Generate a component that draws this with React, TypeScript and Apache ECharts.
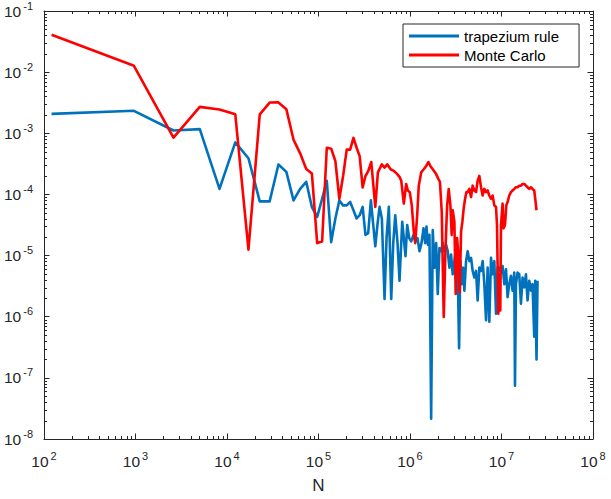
import React, { useEffect, useRef } from "react";
import * as echarts from "echarts";

// ---------- data ----------
const trapN = [
  121, 961, 2601, 5041, 8281, 12321, 17161, 22801, 29241, 36481,
  44521, 53361, 63001, 73441, 84681, 96721, 109561, 123201, 137641, 152881,
  168921, 185761, 203401, 221841, 241081, 261121, 281961, 303601, 326041, 349281,
  373700, 395100, 417500, 442300, 465000, 492600, 527100, 554200, 587200, 623700,
  655800, 689600, 730600, 768300, 822100, 855800, 893100, 932200, 980100, 1030600,
  1091900, 1148000, 1207000, 1269000, 1335000, 1404000, 1465000, 1514000, 1572000, 1632000,
  1703000, 1773000, 1850000, 1931000, 2010000, 2098000, 2189000, 2279000, 2378000, 2482000,
  2583000, 2696000, 2813000, 2928000, 3056000, 3189000, 3320000, 3439000, 3553000, 3671000,
  3802000, 3929000, 4100000, 4268000, 4455000, 4649000, 4839000, 5051000, 5271000, 5487000,
  5726000, 5976000, 6222000, 6493000, 6776000, 7053000, 7361000, 7683000, 7997000, 8346000,
  8710000, 9067000, 9462000, 9874000, 10280000, 10730000, 11200000, 11660000, 12160000, 12690000,
  13210000, 13790000, 14040000, 14390000, 14980000, 15630000, 16320000, 16990000, 17730000, 18500000,
  19260000, 20100000, 20980000, 21840000, 22790000, 23370000, 24140000, 24760000,
];
const trapErr = [
  2.08e-3, 2.33e-3, 1.11e-3, 1.17e-3, 1.23e-4, 7.1e-4, 3.9e-4, 7.7e-5, 7.7e-5, 3.08e-4,
  2.34e-4, 7.98e-5, 1.23e-4, 1.61e-4, 6.2e-5, 4.3e-5, 8.5e-5, 1.67e-4, 1.66e-5, 4.05e-5,
  7.98e-5, 6.62e-5, 6.62e-5, 7.52e-5, 5.51e-5, 4.05e-5, 4.57e-5, 6.25e-5, 2.18e-5, 2.32e-5,
  7.98e-5, 3.37e-5, 1.42e-5, 3.37e-5, 6.25e-5, 4.05e-5, 1.95e-6, 1.93e-5, 6.25e-5, 1.95e-6,
  1.6e-5, 4.57e-5, 1.6e-5, 3.87e-6, 3.58e-5, 1.93e-5, 9.77e-6, 3.16e-5, 1.93e-5, 1.71e-5,
  2.18e-5, 1.71e-5, 1.93e-5, 1.18e-5, 1.6e-5, 2.79e-5, 1.6e-5, 2.97e-5, 1.5e-5, 2.18e-5,
  2.15e-8, 2.62e-5, 6.34e-6, 1.6e-5, 2.36e-6, 1.33e-5, 1.18e-5, 1.6e-5, 1.18e-5, 1.5e-5,
  1.18e-5, 6.34e-6, 1.04e-5, 4.94e-6, 8.12e-6, 1.33e-5, 6.34e-6, 3.06e-7, 8.12e-6, 3.41e-6,
  6.34e-6, 2.67e-6, 8.12e-6, 1.18e-5, 8.12e-6, 9.18e-6, 5.61e-6, 4.38e-6, 5.61e-6, 1.85e-6,
  6.34e-6, 5.61e-6, 8.12e-6, 3.41e-6, 8.79e-7, 6.34e-6, 8.25e-7, 9.18e-6, 4.94e-6, 8.12e-6,
  1.12e-6, 6.34e-6, 6.34e-6, 5.26e-6, 6.75e-6, 3.41e-6, 5.96e-6, 2.09e-6, 3.41e-6, 4.66e-6,
  2.67e-6, 5.26e-6, 7.41e-8, 3.41e-6, 5.26e-6, 4.94e-6, 1.63e-6, 4.38e-6, 3.02e-6, 4.94e-6,
  1.85e-6, 3.87e-6, 2.67e-6, 3.41e-6, 4.73e-7, 3.87e-6, 2.0e-7, 3.87e-6,
];

const mcN = [
  121, 961, 2601, 5041, 8281, 12321, 17161, 22801, 29241, 36481,
  44521, 53361, 63001, 73441, 84681, 96721, 109561, 123201, 137641, 152881,
  168921, 185761, 203401, 221841, 241081, 261121, 281961, 303601, 326041, 349281,
  377500, 417500, 445700, 492600, 527100, 564100, 612900, 665700, 725100, 774100,
  801700, 855800, 909100, 946300, 995000, 1046200, 1100000, 1139600, 1198000, 1247000,
  1325000, 1414000, 1502000, 1592000, 1674000, 1773000, 1931000, 2046000, 2124000, 2223000,
  2337000, 2438000, 2545000, 2649000, 2764000, 2856000, 2928000, 3056000, 3158000, 3270000,
  3379000, 3491000, 3616000, 3736000, 3860000, 3999000, 4131000, 4268000, 4455000, 4649000,
  4839000, 5051000, 5271000, 5487000, 5726000, 5976000, 6222000, 6493000, 6776000, 7053000,
  7361000, 7683000, 7997000, 8346000, 8710000, 8931000, 9228000, 9462000, 9703000, 9874000,
  10280000, 10540000, 10920000, 11280000, 11660000, 12160000, 12690000, 13210000, 13790000, 14390000,
  14980000, 15630000, 16320000, 16990000, 17730000, 18500000, 19260000, 20100000, 20980000, 21840000,
  22790000, 23370000, 24140000,
];
const mcErr = [
  4.1e-2, 1.27e-2, 8.5e-4, 2.7e-3, 2.45e-3, 2.04e-3, 1.25e-5, 2.04e-3, 3.18e-3, 3.2e-3,
  2.48e-3, 7.85e-4, 4.7e-4, 2.6e-4, 2.2e-4, 1.6e-5, 1.7e-5, 5.8e-4, 5.6e-4, 3.5e-4,
  8.5e-5, 2.0e-4, 5.4e-4, 5.4e-4, 8.4e-4, 5.8e-4, 4.2e-4, 1.3e-4, 2.0e-4, 2.4e-4,
  3.39e-4, 6.25e-5, 2.29e-4, 3.11e-4, 2.75e-4, 3.11e-4, 2.58e-4, 2.43e-4, 2.15e-4, 1.9e-4,
  1.68e-4, 7.06e-5, 1.48e-4, 1.16e-4, 1.09e-4, 6.62e-5, 2.47e-5, 1.6e-5, 4.57e-5, 1.39e-4,
  2.29e-4, 2.58e-4, 2.92e-4, 3.39e-4, 2.89e-4, 2.58e-4, 2.15e-4, 1.78e-4, 1.6e-4, 5.19e-5,
  9.93e-7, 1.18e-5, 6.62e-5, 1.23e-4, 6.62e-5, 2.18e-5, 5.51e-5, 3.58e-5, 2.36e-6, 1.93e-5,
  1.04e-5, 2.51e-6, 2.47e-5, 3.58e-5, 5.86e-5, 8.49e-5, 1.09e-4, 1.09e-4, 1.23e-4, 9.05e-5,
  1.39e-4, 1.16e-4, 1.09e-4, 1.68e-4, 2.01e-4, 1.31e-4, 9.6e-5, 1.23e-4, 1.09e-4, 1.16e-4,
  9.6e-5, 8.49e-5, 9.6e-5, 6.62e-5, 6.25e-5, 3.16e-5, 1.12e-6, 4.94e-6, 1.27e-6, 3.16e-5,
  7.06e-5, 2.79e-5, 3.16e-5, 6.62e-5, 7.52e-5, 9.6e-5, 1.09e-4, 1.16e-4, 1.23e-4, 1.31e-4,
  1.31e-4, 1.39e-4, 1.39e-4, 1.48e-4, 1.48e-4, 1.39e-4, 1.31e-4, 1.23e-4, 1.31e-4, 1.23e-4,
  1.16e-4, 8.49e-5, 5.51e-5,
];

const seriesNames = ["trapezium rule", "Monte Carlo"];
const xTickExponents = [2, 3, 4, 5, 6, 7, 8];
const yTickExponents = [-8, -7, -6, -5, -4, -3, -2, -1];
const xLabel = "N";

// ---------- styling ----------
const FONT = "'Liberation Sans', Arial, Helvetica, sans-serif";
const AXIS_COLOR = "#262626";
const BLUE = "#0072BD";
const RED = "#FF0000";

const xMin = Math.pow(10, xTickExponents[0]);
const xMax = Math.pow(10, xTickExponents[xTickExponents.length - 1]);
const yMin = Math.pow(10, yTickExponents[0]);
const yMax = Math.pow(10, yTickExponents[yTickExponents.length - 1]);

// minor tick positions (2..9 x 10^k) for decoration
const minorX: number[] = [];
for (let e = xTickExponents[0]; e < xTickExponents[xTickExponents.length - 1]; e++) {
  for (let m = 2; m <= 9; m++) minorX.push(m * Math.pow(10, e));
}
const minorY: number[] = [];
for (let e = yTickExponents[0]; e < yTickExponents[yTickExponents.length - 1]; e++) {
  for (let m = 2; m <= 9; m++) minorY.push(m * Math.pow(10, e));
}

const expLabel = (v: number) => {
  const e = Math.round(Math.log10(v));
  return `{b|10}{s|${e}}`;
};

const labelRich = {
  b: { fontSize: 15.5, fontFamily: FONT, color: AXIS_COLOR },
  s: { fontSize: 11, fontFamily: FONT, color: AXIS_COLOR, padding: [0, 0, 11, 2] },
};

const MINOR_LEN = 3;

export default function App() {
  const ref = useRef<HTMLDivElement>(null);

  useEffect(() => {
    if (!ref.current) return;
    const chart = echarts.init(ref.current, undefined, { renderer: "svg" });

    const baseAxis = {
      type: "log" as const,
      logBase: 10,
      axisLine: { show: true, onZero: false, lineStyle: { color: AXIS_COLOR, width: 1 } },
      axisTick: { show: true, inside: true, length: 5.5, lineStyle: { color: AXIS_COLOR, width: 1 } },
      splitLine: { show: false },
      minorTick: { show: false },
    };

    const option: any = {
      animation: false,
      backgroundColor: "#ffffff",
      textStyle: { fontFamily: FONT },
      grid: { left: 44, right: 18, top: 9, bottom: 55, containLabel: false },
      legend: {
        data: seriesNames,
        orient: "vertical",
        left: 403,
        top: 24,
        icon: "rect",
        itemWidth: 50,
        itemHeight: 3,
        itemGap: 3,
        itemStyle: { borderWidth: 0 },
        padding: [4, 20, 4, 6],
        borderColor: AXIS_COLOR,
        borderWidth: 1,
        backgroundColor: "#ffffff",
        textStyle: { fontSize: 15, fontFamily: FONT, color: "#000000", lineHeight: 16 },
      },
      xAxis: [
        {
          ...baseAxis,
          position: "bottom",
          min: xMin,
          max: xMax,
          splitNumber: xTickExponents.length - 1,
          axisLabel: { formatter: expLabel, rich: labelRich, margin: 11, showMinLabel: true, showMaxLabel: true },
          name: xLabel,
          nameLocation: "middle",
          nameGap: 38,
          nameTextStyle: { fontSize: 17, fontFamily: FONT, color: AXIS_COLOR },
        },
        {
          ...baseAxis,
          position: "top",
          min: xMin,
          max: xMax,
          splitNumber: xTickExponents.length - 1,
          axisLabel: { show: false },
        },
      ],
      yAxis: [
        {
          ...baseAxis,
          position: "left",
          min: yMin,
          max: yMax,
          splitNumber: yTickExponents.length - 1,
          axisLabel: { formatter: expLabel, rich: labelRich, margin: 11, showMinLabel: true, showMaxLabel: true },
        },
        {
          ...baseAxis,
          position: "right",
          min: yMin,
          max: yMax,
          splitNumber: yTickExponents.length - 1,
          axisLabel: { show: false },
        },
      ],
      series: [
        {
          type: "custom",
          name: "minorX",
          silent: true,
          xAxisIndex: 0,
          yAxisIndex: 0,
          data: minorX.map((v) => [v, 1e-4]),
          renderItem: (params: any, api: any) => {
            const p = api.coord([api.value(0), api.value(1)]);
            const cs = params.coordSys;
            const x = Math.round(p[0]) + 0.5;
            const b = cs.y + cs.height;
            return {
              type: "group",
              children: [
                { type: "line", shape: { x1: x, y1: b, x2: x, y2: b - MINOR_LEN }, style: { stroke: AXIS_COLOR, lineWidth: 1 } },
                { type: "line", shape: { x1: x, y1: cs.y, x2: x, y2: cs.y + MINOR_LEN }, style: { stroke: AXIS_COLOR, lineWidth: 1 } },
              ],
            };
          },
        },
        {
          type: "custom",
          name: "minorY",
          silent: true,
          xAxisIndex: 0,
          yAxisIndex: 0,
          data: minorY.map((v) => [1e4, v]),
          renderItem: (params: any, api: any) => {
            const p = api.coord([api.value(0), api.value(1)]);
            const cs = params.coordSys;
            const y = Math.round(p[1]) + 0.5;
            const r = cs.x + cs.width;
            return {
              type: "group",
              children: [
                { type: "line", shape: { x1: cs.x, y1: y, x2: cs.x + MINOR_LEN, y2: y }, style: { stroke: AXIS_COLOR, lineWidth: 1 } },
                { type: "line", shape: { x1: r, y1: y, x2: r - MINOR_LEN, y2: y }, style: { stroke: AXIS_COLOR, lineWidth: 1 } },
              ],
            };
          },
        },
        {
          type: "line",
          name: seriesNames[0],
          data: trapN.map((n, i) => [n, trapErr[i]]),
          showSymbol: false,
          symbol: "none",
          color: BLUE,
          lineStyle: { color: BLUE, width: 2.6, join: "round" },
          z: 3,
        },
        {
          type: "line",
          name: seriesNames[1],
          data: mcN.map((n, i) => [n, mcErr[i]]),
          showSymbol: false,
          symbol: "none",
          color: RED,
          lineStyle: { color: RED, width: 2.6, join: "round" },
          z: 4,
        },
      ],
    };

    chart.setOption(option);
    return () => chart.dispose();
  }, []);

  return <div ref={ref} style={{ width: 611, height: 499, position: "absolute", left: 0, top: 0 }} />;
}
